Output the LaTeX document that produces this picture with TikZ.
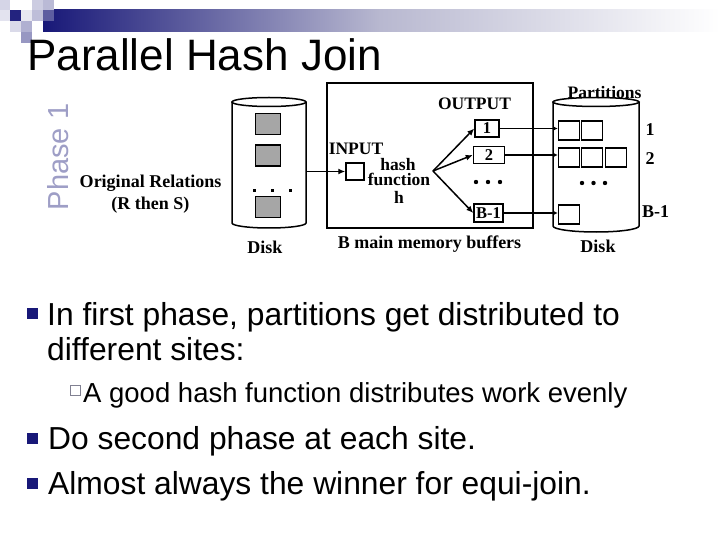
\documentclass[tikz,border=0pt]{standalone}
\usepackage{fontspec}
\setmainfont{Liberation Serif}
\newfontfamily\arial{Liberation Sans}
\usetikzlibrary{arrows.meta,positioning}
\definecolor{navy}{RGB}{24,24,120}
\definecolor{lav}{RGB}{184,184,208}
\definecolor{phasegray}{RGB}{158,158,198}
\newcommand{\fsz}[1]{\fontsize{#1}{#1}\selectfont}

\begin{document}
\begin{tikzpicture}[x=1pt,y=1pt,
  lbl/.style={font=\fsz{18}\bfseries,inner sep=0},
  big/.style={font=\fsz{17.5}\bfseries,inner sep=0},
  buf/.style={draw,line width=1.5pt,inner sep=0,minimum height=17,font=\fsz{16.5}\bfseries},
  page/.style={draw,line width=1.5pt,inner sep=0,minimum width=21,minimum height=19},
  blk/.style={draw,line width=1.5pt,fill=black!35,inner sep=0,minimum width=25,minimum height=21},
  wire/.style={line width=1.5pt},
  tip/.style={-{Latex[length=7pt,width=6pt]}},
  smalltip/.style={-{Latex[length=4pt,width=4pt]}},
  sq/.style={fill=navy,inner sep=0,minimum size=11},
  hsq/.style={draw=lav!70!black,line width=.8pt,inner sep=0,minimum size=10},
  bullet/.style={anchor=base west,inner sep=0,font=\arial\fsz{31.8}},
  sub/.style={anchor=base west,inner sep=0,font=\arial\fsz{27.5}}]
\useasboundingbox (0,0) rectangle (720,-540);
% title bar and corner squares
\shade[left color=navy,right color=lav] (43,-10) rectangle (380,-32);
\shade[left color=lav,right color=white] (380,-10) rectangle (720,-32);
\fill[navy!18] (0,0) rectangle (10,-10);
\fill[navy!22] (32,0) rectangle (43,-10);
\fill[navy!30] (43,0) rectangle (54,-10);
\fill[navy!12] (0,-10) rectangle (10,-21);
\fill[navy!95] (10,-10) rectangle (21,-21);
\fill[navy!10] (21,-10) rectangle (32,-21);
\fill[navy!28] (32,-10) rectangle (43,-21);
\fill[navy!70] (43,-10) rectangle (54,-21);
\fill[navy!16] (10,-21) rectangle (21,-32);
\fill[navy!34] (21,-21) rectangle (32,-32);
\fill[navy!45] (21,-32) rectangle (32,-43);
\node[anchor=base west,inner sep=0,font=\arial\fsz{44}] (title) at (27,-71) {Parallel Hash Join};
\node[rotate=90,font=\arial\fsz{29},text=phasegray] (phase) at (58,-157) {Phase 1};

% left disk
\draw[wire] (232,-102) -- (232,-223) arc[start angle=180,end angle=360,x radius=37,y radius=5] -- (306,-102);
\draw[wire] (269,-102) ellipse[x radius=37,y radius=4.5];
\node[blk] (r1) at (268,-124) {};
\node[blk] (r2) at (268,-155.5) {};
\node[blk] (r3) at (268,-207) {};
\foreach \x in {254,272,290} \fill (\x-1.5,-189) rectangle ++(3,-3);
\coordinate (diskout) at (306,-171.5);
\node[lbl,font=\fontsize{18}{22}\selectfont\bfseries,align=center] (orig) at (150.5,-194) {Original Relations\\(R then S)};
\node[lbl] (disk1) at (265,-247) {Disk};

% main memory
\node[draw,line width=1.5pt,minimum width=206,minimum height=145,inner sep=0] (mem) at (430,-155.5) {};
\node[big] (inlbl) at (356,-148.5) {INPUT};
\node[draw,line width=1.5pt,minimum width=18,minimum height=17,inner sep=0] (inbuf) at (355,-171.5) {};
\node[big] (hash) at (398,-164.5) {hash};
\node[big] (func) at (399,-179) {function};
\node[big] (hfn) at (399,-197) {h};
\coordinate (fan) at (433,-171);
\node[big] (outlbl) at (474.5,-104) {OUTPUT};
\node[buf,minimum width=24] (ob1) at (487,-128.5) {1};
\node[buf,minimum width=31] (ob2) at (489,-155) {2};
\node[buf,minimum width=29,minimum height=18] (ob3) at (488.5,-213) {B-1};
\foreach \x in {476,488,500} \fill (\x,-182) circle (2.2);
\node[lbl] (membuf) at (429.5,-244) {B main memory buffers};

\draw[wire,tip] (diskout) -- (inbuf.west);
\draw[wire,tip] (fan) -- (ob1.west);
\draw[wire,tip] (fan) -- (ob2.west);
\draw[wire,tip] (fan) -- (ob3.west);

% right disk
\draw[wire] (553,-102) -- (553,-226) arc[start angle=180,end angle=360,x radius=43,y radius=6] -- (639,-102);
\draw[wire] (596,-102) ellipse[x radius=43,y radius=4.5];
\node[page] (p11) at (569,-130.5) {};
\node[page] (p12) at (592,-130.5) {};
\node[page] (p21) at (569,-157.5) {};
\node[page] (p22) at (592,-157.5) {};
\node[page] (p23) at (616,-157.5) {};
\node[page] (p31) at (569,-214.5) {};
\foreach \x in {582,593.5,605} \fill (\x,-183) circle (2.2);
\draw[wire,smalltip] (ob1.east) -- (ob1.east -| p11.west);
\draw[wire,smalltip] (ob2.east) -- (ob2.east -| p21.west);
\draw[wire,smalltip] (ob3.east) -- (ob3.east -| p31.west);
\node[big] (partlbl) at (604.5,-93) {Partitions};
\node[lbl] (n1) at (650,-130) {1};
\node[lbl] (n2) at (650,-159) {2};
\node[lbl] (n3) at (655.5,-212) {B-1};
\node[lbl] (disk2) at (598,-246) {Disk};

% bullets
\node[sq] (sq1) at (32,-313) {};
\node[bullet] (b1) at (47,-325) {In first phase, partitions get distributed to};
\node[bullet] (b1b) at (47,-360) {different sites:};
\node[hsq] (sq2) at (75,-390) {};
\node[sub] (b2) at (83,-402) {A good hash function distributes work evenly};
\node[sq] (sq3) at (32,-438) {};
\node[bullet] (b3) at (48,-449) {Do second phase at each site.};
\node[sq] (sq4) at (32,-483) {};
\node[bullet] (b4) at (48,-494) {Almost always the winner for equi-join.};
\end{tikzpicture}
\end{document}
